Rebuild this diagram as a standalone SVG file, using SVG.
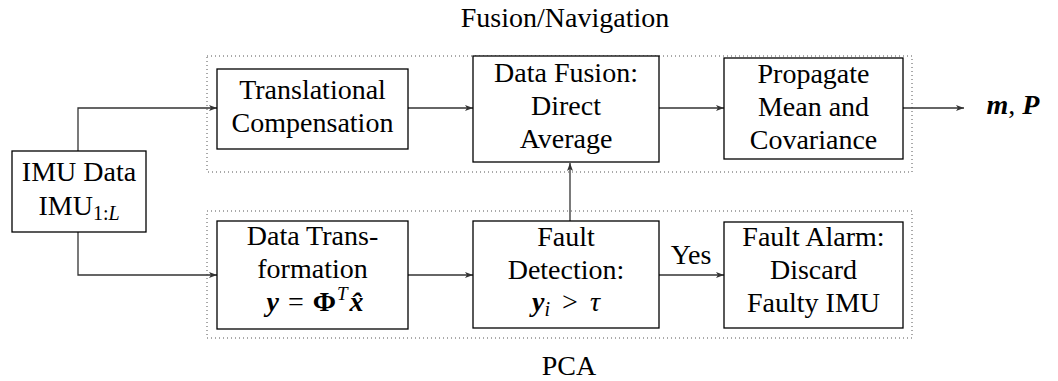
<svg xmlns="http://www.w3.org/2000/svg" width="1058" height="381" viewBox="0 0 1058 381">
<defs>
<style>
.box{fill:#fff;stroke:#000;stroke-width:1.3}
.grp{fill:none;stroke:#555;stroke-width:1;stroke-dasharray:1 3}
.t{font-family:'Liberation Serif','Times New Roman',serif;font-size:28px;fill:#000;text-anchor:middle}
.m{font-weight:bold;font-style:italic}
.b{font-weight:bold}
.i{font-style:italic}
.conn{fill:none;stroke:#333;stroke-width:1.3;marker-end:url(#ah)}
</style>
<marker id="ah" viewBox="0 0 8 6" refX="8" refY="3" markerWidth="8" markerHeight="6" markerUnits="userSpaceOnUse" orient="auto">
<path d="M0,0 L8,3 L0,6 L2,3 z" fill="#333"/>
</marker>
</defs>
<rect width="1058" height="381" fill="#fff"/>

<g id="group-fusion">
<rect class="grp" x="207" y="56" width="705" height="116"/>
<text class="t" x="565" y="27">Fusion/Navigation</text>
</g>
<g id="group-pca">
<rect class="grp" x="207" y="211" width="705" height="127"/>
<text class="t" x="569" y="375">PCA</text>
</g>

<g id="connectors">
<polyline class="conn" points="78,151 78,108 217,108"/>
<polyline class="conn" points="78,232 78,275 217,275"/>
<line class="conn" x1="408" y1="108" x2="473" y2="108"/>
<line class="conn" x1="659" y1="108" x2="724" y2="108"/>
<line class="conn" x1="903" y1="108" x2="964" y2="108"/>
<line class="conn" x1="408" y1="275" x2="473" y2="275"/>
<line class="conn" x1="659" y1="275" x2="724" y2="275"/>
<line class="conn" x1="570" y1="221" x2="570" y2="163"/>
<text class="t" x="691" y="264">Yes</text>
<text class="t" x="1013" y="114"><tspan class="m">m</tspan>, <tspan class="m">P</tspan></text>
</g>

<g id="imu">
<rect class="box" x="12" y="151" width="134" height="81"/>
<text class="t" x="79" y="181">IMU Data</text>
<text class="t" x="79" y="215">IMU<tspan font-size="20" dy="5">1:</tspan><tspan font-size="20" class="i">L</tspan></text>
</g>

<g id="translational">
<rect class="box" x="217" y="69" width="191" height="80"/>
<text class="t" x="312.5" y="99">Translational</text>
<text class="t" x="312.5" y="132">Compensation</text>
</g>

<g id="fusion">
<rect class="box" x="473" y="56" width="186" height="106"/>
<text class="t" x="566" y="82">Data Fusion:</text>
<text class="t" x="566" y="115">Direct</text>
<text class="t" x="566" y="148">Average</text>
</g>

<g id="propagate">
<rect class="box" x="724" y="58" width="179" height="101"/>
<text class="t" x="813.5" y="83">Propagate</text>
<text class="t" x="813.5" y="116">Mean and</text>
<text class="t" x="813.5" y="149">Covariance</text>
</g>

<g id="transform">
<rect class="box" x="217" y="221" width="191" height="108"/>
<text class="t" x="312.5" y="245">Data Trans-</text>
<text class="t" x="312.5" y="278">formation</text>
<text class="t" x="315" y="311"><tspan class="m">y</tspan><tspan dx="9">=</tspan><tspan class="b" dx="9">Φ</tspan><tspan class="i" font-size="19" dy="-11" dx="1">T</tspan><tspan class="m" dy="11" dx="2">x̂</tspan></text>
</g>

<g id="detection">
<rect class="box" x="473" y="221" width="186" height="107"/>
<text class="t" x="566" y="246">Fault</text>
<text class="t" x="566" y="279">Detection:</text>
<text class="t" x="566" y="311"><tspan class="m">y</tspan><tspan class="i" font-size="20" dy="5">i</tspan><tspan dy="-5" dx="12">&gt;</tspan><tspan class="i" dx="12">τ</tspan></text>
</g>

<g id="alarm">
<rect class="box" x="724" y="222" width="179" height="106"/>
<text class="t" x="813.5" y="246">Fault Alarm:</text>
<text class="t" x="813.5" y="279">Discard</text>
<text class="t" x="813.5" y="312">Faulty IMU</text>
</g>
</svg>
